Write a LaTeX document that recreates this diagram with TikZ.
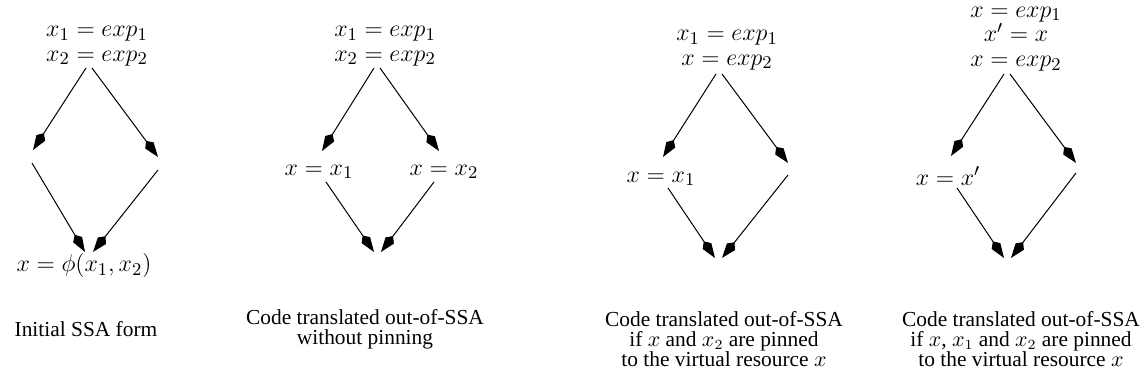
\documentclass[tikz,border=0pt]{standalone}
\usepackage[no-math]{fontspec}
\setmainfont{Liberation Serif}
\usetikzlibrary{arrows.meta}
\tikzset{
  edge/.style={line width=0.5pt, -{Kite[length=10pt,width=5.2pt,inset=2.8pt]}},
  mathtxt/.style={font=\fontsize{12.4}{12.4}\selectfont, align=center, inner sep=0pt},
  captxt/.style={font=\fontsize{10.7}{10}\selectfont, align=center, inner sep=0pt},
}
\begin{document}
\begin{tikzpicture}[x=0.5pt,y=-0.5pt]
\useasboundingbox (0,0) rectangle (1146,383);
% ---------- panel 1 ----------
\node[mathtxt] (t1) at (97,46) {$x_1 = exp_1$\\$x_2 = exp_2$};
\node[mathtxt] (b1) at (84,266) {$x = \phi(x_1, x_2)$};
\node[captxt] (c1) at (86,329) {Initial SSA form};
\coordinate (t1l) at (86,68);  \coordinate (t1r) at (92,68);
\coordinate (m1l) at (33,150); \coordinate (m1r) at (158,157);
\coordinate (m1ls) at (32,163); \coordinate (m1rs) at (158,170);
\coordinate (b1l) at (85,252); \coordinate (b1r) at (93,252);
\draw[edge] (t1l) -- (m1l);
\draw[edge] (t1r) -- (m1r);
\draw[edge] (m1ls) -- (b1l);
\draw[edge] (m1rs) -- (b1r);
% ---------- panel 2 ----------
\node[mathtxt] (t2) at (385,46) {$x_1 = exp_1$\\$x_2 = exp_2$};
\node[mathtxt] (m2l) at (319,172) {$x = x_1$};
\node[mathtxt] (m2r) at (444,172) {$x = x_2$};
\node[captxt] (c2) at (365,329) {Code translated out-of-SSA\\without pinning};
\coordinate (t2l) at (374,68);  \coordinate (t2r) at (380,68);
\coordinate (m2lt) at (322,151); \coordinate (m2rt) at (439,151);
\coordinate (m2ls) at (326,182); \coordinate (m2rs) at (434,182);
\coordinate (b2l) at (374,252); \coordinate (b2r) at (381,252);
\draw[edge] (t2l) -- (m2lt);
\draw[edge] (t2r) -- (m2rt);
\draw[edge] (m2ls) -- (b2l);
\draw[edge] (m2rs) -- (b2r);
% ---------- panel 3 ----------
\node[mathtxt] (t3) at (727,50) {$x_1 = exp_1$\\$x = exp_2$};
\node[mathtxt] (m3l) at (661,179) {$x = x_1$};
\node[captxt] (c3) at (724,339) {Code translated out-of-SSA\\if $x$ and $x_2$ are pinned\\to the virtual resource $x$};
\coordinate (t3l) at (716,74);  \coordinate (t3r) at (722,74);
\coordinate (m3lt) at (663,157); \coordinate (m3rt) at (788,163);
\coordinate (m3ls) at (668,188); \coordinate (m3rs) at (788,175);
\coordinate (b3l) at (715,258); \coordinate (b3r) at (722,258);
\draw[edge] (t3l) -- (m3lt);
\draw[edge] (t3r) -- (m3rt);
\draw[edge] (m3ls) -- (b3l);
\draw[edge] (m3rs) -- (b3r);
% ---------- panel 4 ----------
\node[mathtxt] (t4) at (1016,39) {$x = exp_1$\\$x' = x$\\$x = exp_2$};
\node[mathtxt] (m4l) at (948,176) {$x = x'$};
\node[captxt] (c4) at (1021,339) {Code translated out-of-SSA\\if $x$, $x_1$ and $x_2$ are pinned\\to the virtual resource $x$};
\coordinate (t4l) at (1004,74);  \coordinate (t4r) at (1010,74);
\coordinate (m4lt) at (951,156); \coordinate (m4rt) at (1076,163);
\coordinate (m4ls) at (957,188); \coordinate (m4rs) at (1076,173);
\coordinate (b4l) at (1004,258); \coordinate (b4r) at (1011,258);
\draw[edge] (t4l) -- (m4lt);
\draw[edge] (t4r) -- (m4rt);
\draw[edge] (m4ls) -- (b4l);
\draw[edge] (m4rs) -- (b4r);
\end{tikzpicture}
\end{document}
